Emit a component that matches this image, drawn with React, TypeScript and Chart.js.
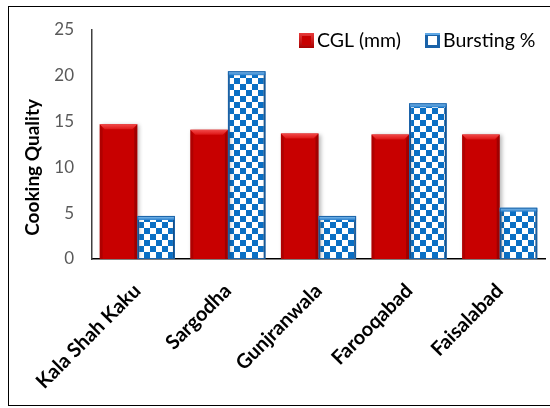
import React, { useEffect, useRef } from "react";
import { Chart, registerables } from "chart.js";

Chart.register(...registerables);

// Cooking quality of rice samples by location
const locations = ["Kala Shah Kaku", "Sargodha", "Gunjranwala", "Farooqabad", "Faisalabad"];
const cglValues = [14.7, 14.1, 13.7, 13.6, 13.6];
const burstingValues = [4.7, 20.5, 4.7, 17.0, 5.6];
const seriesNames = ["CGL (mm)", "Bursting %"];
const yTicks = [0, 5, 10, 15, 20, 25];
const yTitle = "Cooking Quality";

const FONT = "Lato, 'Open Sans', sans-serif";
const RED = "#c80000";
const BLUE = "#0a6fc4";
const BLUE_EDGE = "#1a62a8";

function makeChecker(): CanvasPattern | string {
  const c = document.createElement("canvas");
  c.width = 12;
  c.height = 12;
  const g = c.getContext("2d");
  if (!g) return BLUE;
  g.fillStyle = "#ffffff";
  g.fillRect(0, 0, 12, 12);
  g.fillStyle = BLUE;
  g.fillRect(0, 0, 6, 6);
  g.fillRect(6, 6, 6, 6);
  const p = g.createPattern(c, "repeat");
  return p || BLUE;
}

// Bevel highlights on each bar, a soft shadow, the legend and the y title
const decorPlugin = {
  id: "decor",
  beforeDatasetsDraw(chart: any) {
    const ctx = chart.ctx;
    ctx.save();
    ctx.shadowColor = "rgba(0,0,0,0.28)";
    ctx.shadowBlur = 4;
    ctx.shadowOffsetX = 2;
    ctx.shadowOffsetY = 1;
  },
  afterDatasetsDraw(chart: any) {
    const ctx = chart.ctx;
    ctx.restore();
    chart.data.datasets.forEach((ds: any, di: number) => {
      const meta = chart.getDatasetMeta(di);
      meta.data.forEach((bar: any) => {
        const { x, y, base, width } = bar.getProps(["x", "y", "base", "width"], true);
        const l = x - width / 2;
        const r = x + width / 2;
        const t = y;
        const b = base;
        const bv = 5;
        ctx.save();
        if (di === 0) {
          const g = ctx.createLinearGradient(0, t, 0, t + bv);
          g.addColorStop(0, "#f24a4a");
          g.addColorStop(1, "#dc1414");
          ctx.fillStyle = g;
          ctx.beginPath();
          ctx.moveTo(l, t);
          ctx.lineTo(r, t);
          ctx.lineTo(r - bv, t + bv);
          ctx.lineTo(l + bv, t + bv);
          ctx.closePath();
          ctx.fill();
          ctx.fillStyle = "rgba(120,0,0,0.3)";
          ctx.beginPath();
          ctx.moveTo(l, t);
          ctx.lineTo(l + 3, t + bv);
          ctx.lineTo(l + 3, b);
          ctx.lineTo(l, b);
          ctx.closePath();
          ctx.fill();
          ctx.fillStyle = "rgba(110,0,0,0.45)";
          ctx.beginPath();
          ctx.moveTo(r, t);
          ctx.lineTo(r - 3, t + bv);
          ctx.lineTo(r - 3, b);
          ctx.lineTo(r, b);
          ctx.closePath();
          ctx.fill();
        } else {
          const g = ctx.createLinearGradient(0, t, 0, t + 4);
          g.addColorStop(0, "#8cc4f0");
          g.addColorStop(1, "#2a7fcc");
          ctx.fillStyle = g;
          ctx.fillRect(l, t, width, 4);
          ctx.strokeStyle = BLUE_EDGE;
          ctx.lineWidth = 1;
          ctx.strokeRect(l + 0.5, t + 0.5, width - 1, b - t - 1);
        }
        ctx.restore();
      });
    });
  },
  afterDraw(chart: any) {
    const ctx = chart.ctx;
    const area = chart.chartArea;
    ctx.save();
    // y axis title
    ctx.translate(33, area.top + (area.bottom - area.top) * 0.6);
    ctx.rotate(-Math.PI / 2);
    ctx.font = `bold 19px ${FONT}`;
    ctx.fillStyle = "#000";
    ctx.textAlign = "center";
    ctx.textBaseline = "middle";
    ctx.fillText(yTitle, 0, 0);
    ctx.restore();

    // legend
    ctx.save();
    ctx.font = `19.5px ${FONT}`;
    ctx.textBaseline = "middle";
    ctx.fillStyle = "#000";
    const ly = 40.5;
    let lx = 299;
    const sw = 15;
    chart.data.datasets.forEach((ds: any, di: number) => {
      if (di === 0) {
        const g = ctx.createLinearGradient(lx, ly - sw / 2, lx, ly + sw / 2);
        g.addColorStop(0, "#e83a3a");
        g.addColorStop(1, "#a80000");
        ctx.fillStyle = g;
        ctx.fillRect(lx, ly - sw / 2, sw, sw);
        ctx.fillStyle = RED;
        ctx.fillRect(lx + 3, ly - sw / 2 + 3, sw - 6, sw - 6);
      } else {
        ctx.fillStyle = BLUE_EDGE;
        ctx.fillRect(lx, ly - sw / 2, sw, sw);
        ctx.fillStyle = "#ffffff";
        ctx.fillRect(lx + 3, ly - sw / 2 + 3, sw - 6, sw - 6);
        ctx.fillStyle = "#5fa8e6";
        ctx.fillRect(lx, ly - sw / 2, sw, 2);
      }
      ctx.fillStyle = "#000";
      ctx.textAlign = "left";
      ctx.fillText(ds.label, lx + sw + 3, ly);
      lx = 425;
    });
    ctx.restore();
  },
};

export default function App() {
  const ref = useRef<HTMLCanvasElement | null>(null);

  useEffect(() => {
    if (!ref.current) return;
    const checker = makeChecker();
    const chart = new Chart(ref.current, {
      type: "bar",
      data: {
        labels: locations,
        datasets: [
          {
            label: seriesNames[0],
            data: cglValues,
            backgroundColor: RED,
            borderWidth: 0,
            categoryPercentage: 0.83,
            barPercentage: 1,
          },
          {
            label: seriesNames[1],
            data: burstingValues,
            backgroundColor: checker as any,
            borderColor: BLUE_EDGE,
            borderWidth: 2,
            categoryPercentage: 0.83,
            barPercentage: 1,
          },
        ],
      },
      options: {
        animation: false,
        responsive: false,
        devicePixelRatio: 1,
        layout: { padding: { left: 0, top: 30, right: 5, bottom: 0 } },
        plugins: {
          legend: { display: false },
          tooltip: { enabled: false },
        },
        scales: {
          x: {
            grid: { display: false },
            border: { display: true, color: "#000", width: 1.5 },
            ticks: {
              minRotation: 45,
              maxRotation: 45,
              padding: 12,
              color: "#000",
              font: { family: FONT, size: 20, weight: "bold" },
            },
            afterFit: (s: any) => {
              s.height = 149;
            },
          },
          y: {
            min: 0,
            max: 25,
            grid: { display: false, drawTicks: false },
            border: { display: true, color: "#404040", width: 1.5 },
            afterBuildTicks: (s: any) => {
              s.ticks = yTicks.map((v) => ({ value: v }));
            },
            ticks: {
              padding: 18,
              color: "#595959",
              font: { family: FONT, size: 17 },
            },
            afterFit: (s: any) => {
              s.width = 92;
            },
          },
        },
      },
      plugins: [decorPlugin],
    });
    return () => chart.destroy();
  }, []);

  return (
    <>
      <div
        style={{
          position: "fixed",
          left: 8,
          top: 6,
          width: 560,
          height: 400,
          border: "1.5px solid #000",
          boxSizing: "border-box",
        }}
      />
      <canvas
        ref={ref}
        width={550}
        height={408}
        style={{ position: "fixed", left: 0, top: 0, width: 550, height: 408 }}
      />
    </>
  );
}
